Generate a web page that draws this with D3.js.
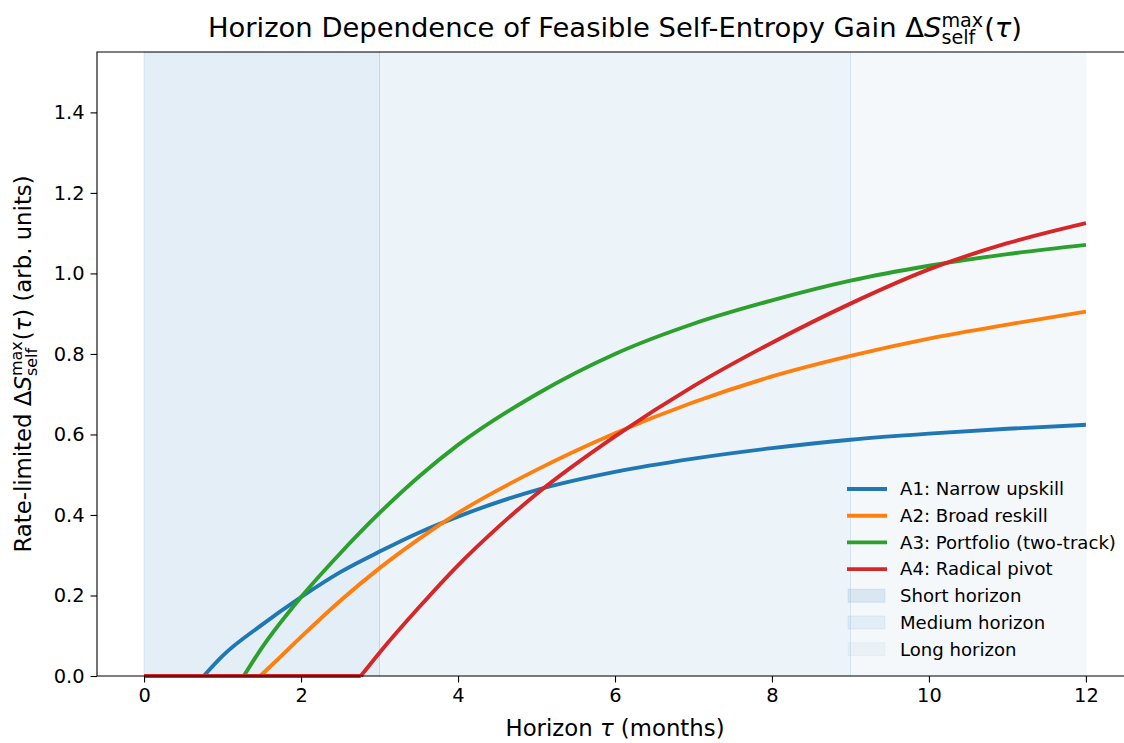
<!doctype html>
<html lang="en">
<head>
  <meta charset="utf-8">
  <title>Horizon Dependence of Feasible Self-Entropy Gain</title>
  <style>
    body { margin: 0; background: #fff; }
    svg text { font-family: "DejaVu Sans", sans-serif; white-space: pre; fill: #000; }
  </style>
  <script src="https://d3js.org/d3.v7.min.js"></script>
</head>
<body>
  <div id="chart"></div>
  <script>

    // values: [tau, dS]
    const a1 = [[0, 0], [0.76, 0], [1.0, 0.05], [1.5, 0.127], [2, 0.196], [2.5, 0.258], [3, 0.309],
      [3.5, 0.356], [4, 0.396], [5, 0.462], [6, 0.507], [7, 0.54], [8, 0.566], [9, 0.587],
      [10, 0.602], [11, 0.614], [12, 0.624]];
    const a2 = [[0, 0], [1.48, 0], [1.75, 0.05], [2, 0.097], [2.5, 0.187], [3, 0.268], [3.5, 0.34],
      [4, 0.405], [5, 0.512], [6, 0.603], [7, 0.68], [8, 0.744], [9, 0.795], [10, 0.838],
      [11, 0.873], [12, 0.905]];
    const a3 = [[0, 0], [1.27, 0], [1.5, 0.07], [2, 0.196], [2.5, 0.305], [3, 0.405], [3.5, 0.495],
      [4, 0.574], [5, 0.7], [6, 0.8], [7, 0.875], [8, 0.933], [9, 0.982], [10, 1.019],
      [11, 1.048], [12, 1.071]];
    const a4 = [[0, 0], [2.76, 0], [3, 0.058], [3.5, 0.17], [4, 0.275], [4.5, 0.368], [5, 0.452],
      [6, 0.595], [7, 0.72], [8, 0.828], [9, 0.925], [10, 1.01], [11, 1.075], [12, 1.125]];

    const seriesNames = ["A1: Narrow upskill", "A2: Broad reskill", "A3: Portfolio (two-track)", "A4: Radical pivot"];
    const seriesColors = ["#1f77b4", "#ff7f0e", "#2ca02c", "#d62728"];
    const seriesData = [a1, a2, a3, a4];

    const spanNames = ["Short horizon", "Medium horizon", "Long horizon"];
    const spanRanges = [[0, 3], [3, 9], [9, 12]];
    const spanAlpha = [0.12, 0.08, 0.05];

    const xTicks = [0, 2, 4, 6, 8, 10, 12];
    const yTicks = [0, 0.2, 0.4, 0.6, 0.8, 1.0, 1.2, 1.4];

    const W = 1124, H = 743;
    const mLeft = 97, mTop = 52, mBottom = 676, mRight = 1133;

    const svg = d3.select("#chart").append("svg")
      .attr("width", W)
      .attr("height", H);

    const x = d3.scaleLinear().domain([-0.6, 12.6]).range([mLeft, mRight]);
    const y = d3.scaleLinear().domain([0, 1.55]).range([mBottom, mTop]);

    // shaded horizon bands
    svg.selectAll("rect.span")
      .data(spanRanges)
      .enter().append("rect")
      .attr("class", "span")
      .attr("x", d => x(d[0]))
      .attr("y", mTop)
      .attr("width", d => x(d[1]) - x(d[0]))
      .attr("height", mBottom - mTop)
      .attr("fill", "#1f77b4")
      .attr("fill-opacity", (d, i) => spanAlpha[i])
      .attr("stroke", "#1f77b4")
      .attr("stroke-opacity", (d, i) => spanAlpha[i])
      .attr("stroke-width", 1);

    // curves: flat part drawn straight, rising part smoothed
    const line = d3.line().x(d => x(d[0])).y(d => y(d[1])).curve(d3.curveMonotoneX);

    seriesData.forEach(function (pts, i) {
      let k = pts.findIndex((p, j) => j > 0 && p[1] > 0) - 1;
      svg.append("path")
        .attr("d", d3.line().x(d => x(d[0])).y(d => y(d[1]))(pts.slice(0, k + 1)))
        .attr("fill", "none")
        .attr("stroke", seriesColors[i])
        .attr("stroke-width", 3.9);
      svg.append("path")
        .attr("d", line(pts.slice(k)))
        .attr("fill", "none")
        .attr("stroke", seriesColors[i])
        .attr("stroke-width", 3.9);
    });

    // axes
    const xAxis = svg.append("g")
      .attr("transform", `translate(0,${mBottom})`)
      .call(d3.axisBottom(x).tickValues(xTicks).tickSize(6.5).tickPadding(6).tickFormat(d3.format("d")));
    const yAxis = svg.append("g")
      .attr("transform", `translate(${mLeft},0)`)
      .call(d3.axisLeft(y).tickValues(yTicks).tickSize(6.5).tickPadding(6).tickFormat(d3.format(".1f")));

    [xAxis, yAxis].forEach(function (g) {
      g.select(".domain").remove();
      g.selectAll(".tick line").attr("stroke", "#000").attr("stroke-width", 1.1);
      g.selectAll(".tick text").attr("font-size", 19.4).attr("font-family", "DejaVu Sans").attr("fill", "#000");
    });

    // spines
    svg.append("path")
      .attr("d", `M${mRight},${mTop}H${mLeft}V${mBottom}H${mRight}`)
      .attr("fill", "none")
      .attr("stroke", "#000")
      .attr("stroke-width", 1.1);

    // text with a little math: sup/sub pairs and italic letters
    function mathText(g, parts, size) {
      let cx = 0;
      parts.forEach(function (p) {
        if (p.sup) {
          const s = size * 0.7;
          const a = g.append("text").attr("x", cx).attr("y", -size * 0.38).attr("font-size", s).text(p.sup);
          const b = g.append("text").attr("x", cx).attr("y", size * 0.27).attr("font-size", s).text(p.sub);
          cx += Math.max(a.node().getComputedTextLength(), b.node().getComputedTextLength()) + 1;
        } else {
          const t = g.append("text").attr("x", cx).attr("font-size", size)
            .attr("font-style", p.it ? "italic" : null).text(p.t);
          cx += t.node().getComputedTextLength();
        }
      });
      g.selectAll("text").attr("x", function () { return +this.getAttribute("x") - cx / 2; });
      return cx;
    }

    const dS = [{ t: "Δ" }, { t: "S", it: true }, { sup: "max", sub: "self" }, { t: "(" }, { t: "τ", it: true }, { t: ")" }];

    const title = svg.append("g").attr("transform", `translate(${(mLeft + mRight) / 2},37)`);
    mathText(title, [{ t: "Horizon Dependence of Feasible Self-Entropy Gain " }].concat(dS), 27.4);

    const xLabel = svg.append("g").attr("transform", `translate(${(mLeft + mRight) / 2},736)`);
    mathText(xLabel, [{ t: "Horizon " }, { t: "τ", it: true }, { t: " (months)" }], 22.8);

    const yLabel = svg.append("g").attr("transform", `translate(31,${(mTop + mBottom) / 2}) rotate(-90)`);
    mathText(yLabel, [{ t: "Rate-limited " }].concat(dS).concat([{ t: " (arb. units)" }]), 22.8);

    // legend, no frame
    const legend = svg.append("g");
    const rowY = d => 489 + d * 26.7;
    seriesNames.forEach(function (name, i) {
      legend.append("line")
        .attr("x1", 847).attr("x2", 887)
        .attr("y1", rowY(i)).attr("y2", rowY(i))
        .attr("stroke", seriesColors[i])
        .attr("stroke-width", 3.9);
      legend.append("text")
        .attr("x", 900).attr("y", rowY(i) + 6.3)
        .attr("font-size", 18.1)
        .text(name);
    });
    spanNames.forEach(function (name, i) {
      const r = 4 + i;
      legend.append("rect")
        .attr("x", 848).attr("y", rowY(r) - 6.5)
        .attr("width", 37).attr("height", 13)
        .attr("fill", "#1f77b4")
        .attr("fill-opacity", spanAlpha[i])
        .attr("stroke", "#1f77b4")
        .attr("stroke-opacity", spanAlpha[i]);
      legend.append("text")
        .attr("x", 900).attr("y", rowY(r) + 6.3)
        .attr("font-size", 18.1)
        .text(name);
    });

  </script>
</body>
</html>
